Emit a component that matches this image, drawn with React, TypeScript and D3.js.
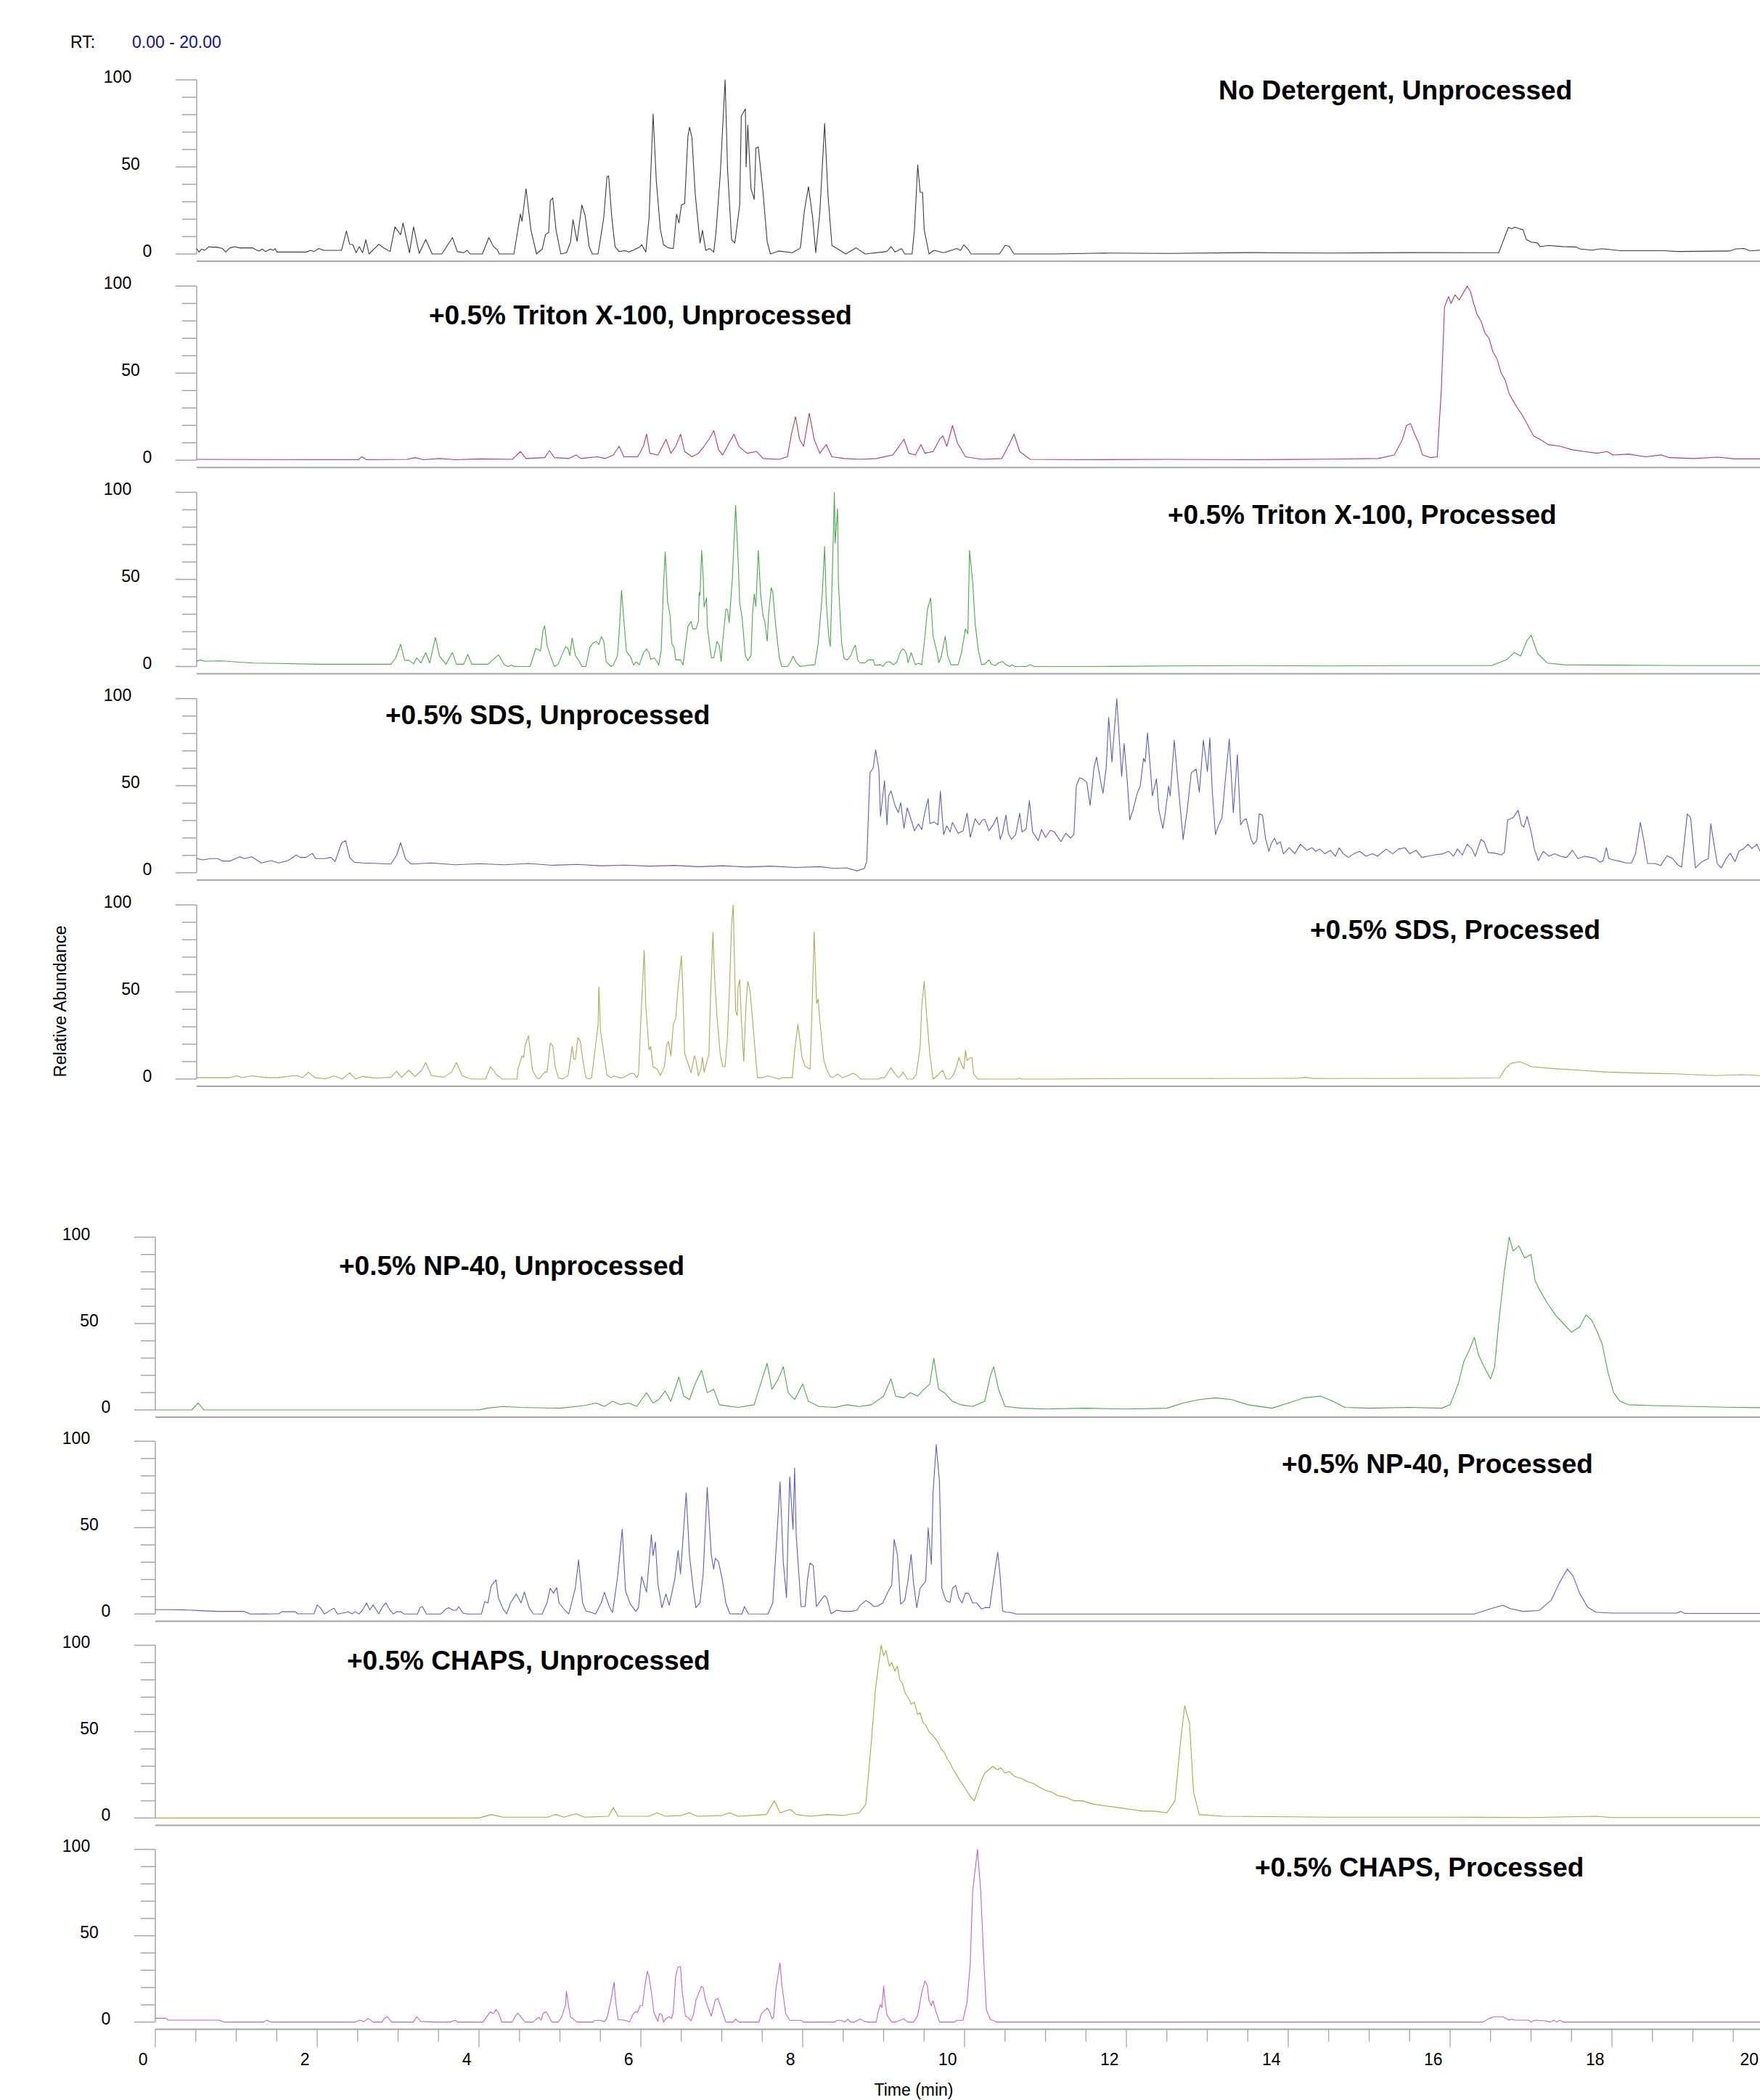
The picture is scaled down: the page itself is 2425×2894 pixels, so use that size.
import React from "react";
import * as d3 from "d3";

type Pt = [number, number];

const W = 2425;
const H = 2894;
const FONT = "'Liberation Sans', Arial, Helvetica, sans-serif";

// ---- trace data: [retention time (min), relative abundance (%)] ----
const noDetergentUnprocessed: Pt[] = [
  [0,3.1],[0.03,1.1],[0.06,2.8],[0.1,2.1],[0.15,4.2],[0.19,3.9],[0.25,3.9],[0.32,3.1],[0.36,1.1],[0.41,3.5],[0.47,4.2],[0.53,3.5],[0.69,3.5],[0.73,2.5],[0.77,1.7],[0.81,2.8],[0.85,1.4],[0.91,2.8],[0.95,2.1],[0.97,3.1],[0.99,1.1],[1.35,1.1],[1.41,2.1],[1.45,1.4],[1.51,3.1],[1.57,2.1],[1.79,2.1],[1.85,13.2],[1.89,5.6],[1.93,5.3],[1.97,0.7],[2.01,4.2],[2.05,0.7],[2.09,8.1],[2.13,0],[2.25,5.6],[2.31,3.5],[2.39,1.4],[2.45,15.6],[2.52,11.1],[2.55,17.8],[2.63,0.7],[2.68,15.6],[2.75,0.3],[2.83,8.3],[2.91,0],[3.03,0],[3.16,9.4],[3.22,1.4],[3.3,0.7],[3.34,2.1],[3.38,0],[3.53,0],[3.61,9.4],[3.67,4.2],[3.72,2.1],[3.74,0],[3.92,0],
  [4.0,22.9],[4.02,18.8],[4.07,37.5],[4.13,13.9],[4.2,0],[4.27,2.8],[4.31,11.1],[4.35,12.5],[4.37,30.6],[4.4,32.2],[4.44,13.9],[4.5,0],[4.57,0.7],[4.62,6.9],[4.65,19.7],[4.7,7.2],[4.76,28.1],[4.8,22.2],[4.85,4.2],[4.89,0],[4.96,0],[5.03,20.8],[5.07,44.2],[5.09,44.9],[5.13,20.8],[5.17,4.2],[5.22,1.4],[5.3,1.9],[5.34,1.1],[5.39,2.1],[5.47,3.9],[5.5,5.3],[5.55,1.1],[5.59,20.8],[5.64,80.3],[5.68,41.7],[5.73,13.9],[5.77,5.3],[5.83,3.5],[5.89,3.1],[5.93,22.9],[5.96,17.8],[5.99,28.1],[6.03,29],[6.07,67.4],[6.09,72.8],[6.12,66.9],[6.16,34.7],[6.22,6.3],[6.25,13.6],[6.29,2.1],[6.34,3.1],[6.39,1.1],[6.42,13.9],[6.47,45.8],[6.53,100],[6.56,48.6],[6.61,8.3],[6.65,6.3],[6.71,28.1],[6.73,79.2],[6.78,83.3],[6.79,50],[6.81,73.9],[6.85,37.5],[6.89,31.3],[6.91,60.7],[6.94,61.5],[7.0,34.7],[7.05,6.9],[7.09,0],[7.19,1.7],[7.36,0.7],[7.46,3.5],[7.51,25],[7.56,38.6],[7.61,21.5],[7.65,0.7],[7.7,23.6],[7.76,75],[7.8,34.7],[7.85,4.9],[7.95,2.1],[8.02,0],[8.15,3.5],[8.26,0],[8.53,1.4],[8.58,4.2],[8.63,1.1],[8.71,3.1],[8.75,0],[8.84,0],[8.87,13.9],[8.91,51.1],[8.94,35.4],[8.97,35.4],[8.99,13.9],[9.05,0],[9.11,2.1],[9.23,0.7],[9.39,3.1],[9.44,2.1],[9.48,5.3],[9.53,2.8],[9.57,0],[9.92,0],[9.99,4.9],[10.04,4.5],[10.1,0],
  [10.6,0],[11.2,0.5],[12.0,0.3],[13.0,0.8],[14.0,0.5],[15.0,0.8],[16.0,0.7],[16.09,0.8],[16.21,15.3],[16.25,14.5],[16.29,15.4],[16.34,14.6],[16.39,13.9],[16.43,8.3],[16.49,6.9],[16.57,6.3],[16.6,4.2],[16.7,4.9],[16.88,4.2],[17.05,4.0],[17.09,2.9],[17.24,2.2],[17.36,3.0],[17.6,1.9],[18.13,1.9],[18.31,1.4],[18.94,1.7],[19.02,2.9],[19.12,3.1],[19.2,1.8],[19.32,2.2],
];

const tritonUnprocessed: Pt[] = [
  [0,0.5],[1.5,0.3],[2.0,0.3],[2.04,2.0],[2.1,0.3],[2.6,0.5],[2.7,1.5],[2.8,0.3],[3.0,1.0],[3.2,0.3],[3.5,0.8],[3.9,0.5],[4.0,5],[4.07,1],[4.3,1.5],[4.36,5.5],[4.42,1.5],[4.6,1],[4.69,3],[4.75,1],[4.95,2],[5.05,1],[5.15,3],[5.22,8],[5.28,2],[5.45,2],[5.52,8],[5.56,15],[5.6,4],[5.7,3],[5.8,12],[5.86,4],[5.92,8],[5.98,15],[6.03,5],[6.12,2],[6.2,4],[6.27,8],[6.33,12],[6.39,17],[6.45,6],[6.5,3],[6.58,10],[6.64,15],[6.7,8],[6.8,4],[6.92,5],[7.0,1],[7.2,0.5],[7.3,2],[7.35,15],[7.4,25],[7.45,12],[7.5,8],[7.57,27],[7.63,12],[7.7,4],[7.78,9],[7.85,2],[8.0,1],[8.2,0.5],[8.4,1],[8.6,3],[8.68,8],[8.74,12],[8.8,4],[8.88,3],[8.95,9],[9.0,4],[9.1,5],[9.18,12],[9.22,14],[9.27,8],[9.34,20],[9.4,10],[9.5,2],[9.7,0.5],[9.95,1],[10.05,10],[10.1,15],[10.17,5],[10.3,0.5],[11,0.3],[12,0.5],[13,0.3],[14,0.6],[14.6,1],[14.8,3],[14.9,12],[14.95,20],[15.0,21],[15.05,15],[15.1,10],[15.15,3],[15.25,1.5],[15.33,2],[15.38,40],[15.42,88],[15.47,94],[15.5,90],[15.55,95],[15.6,92],[15.65,96],[15.7,100],[15.74,97],[15.78,90],[15.82,84],[15.87,80],[15.92,73],[15.97,70],[16.02,62],[16.07,58],[16.12,50],[16.17,46],[16.22,38],[16.27,34],[16.32,30],[16.38,26],[16.45,20],[16.52,14],[16.6,12],[16.7,9],[16.85,8],[17.0,6],[17.15,5],[17.3,4],[17.43,5],[17.5,3],[17.7,3.5],[17.9,2],[18.1,3],[18.2,1.5],[18.5,1],[18.8,1.8],[19.0,0.8],[19.32,0.8],
];

const tritonProcessed: Pt[] = [
  [0,3],[0.05,3.8],[0.1,3.0],[0.3,3.2],[0.5,2.6],[0.7,2.0],[1.0,1.8],[1.5,1.3],[2.0,1.3],[2.4,1.3],[2.46,5],[2.52,12.8],[2.57,3.6],[2.62,3.6],[2.68,1.5],[2.72,5],[2.77,2],[2.83,8],[2.88,2],[2.95,16.7],[3.0,6],[3.08,1.3],[3.16,8],[3.21,1.3],[3.3,1.3],[3.35,7],[3.4,1.3],[3.6,1.3],[3.73,6.7],[3.8,1],[3.85,0],[3.89,0.8],[3.92,0],[4.12,0],
  [4.19,10.3],[4.25,9.1],[4.28,20.9],[4.3,23.3],[4.33,12],[4.37,6.3],[4.42,0],[4.47,1.5],[4.51,6.3],[4.56,11.5],[4.59,10.3],[4.61,6.3],[4.64,16.3],[4.68,6.3],[4.73,2.8],[4.76,0],[4.81,0],[4.86,11.2],[4.9,13.5],[4.94,14.4],[4.97,12.6],[5.0,17.1],[5.03,14.6],[5.06,2.8],[5.12,0],[5.15,1],[5.2,6.3],[5.22,18.8],[5.25,43.8],[5.28,25.8],[5.31,8.8],[5.36,5.6],[5.4,0.8],[5.43,2.8],[5.47,1],[5.52,7.7],[5.56,10.2],[5.59,7.7],[5.61,4.2],[5.65,4.9],[5.68,3.3],[5.71,0.8],[5.74,9.1],[5.77,48],[5.79,65.8],[5.82,36.9],[5.85,29.2],[5.87,13.3],[5.9,10.8],[5.92,3.8],[5.98,3.8],[6.01,0.8],[6.07,23],[6.11,25.8],[6.13,21.6],[6.17,21.6],[6.2,25.8],[6.21,42.7],[6.22,40.8],[6.24,66.7],[6.26,50.8],[6.27,34.1],[6.3,39.4],[6.31,23],[6.36,5],[6.39,5],[6.43,14.4],[6.46,12],[6.48,2.8],[6.5,14.6],[6.54,33],[6.56,32.7],[6.58,25.1],[6.62,50.8],[6.66,92.7],[6.69,61.9],[6.71,36.9],[6.74,27.9],[6.78,6.3],[6.81,3.3],[6.85,6.3],[6.87,31.3],[6.89,41.5],[6.91,34.4],[6.94,66.7],[6.97,40.9],[7.0,28.8],[7.02,25.8],[7.05,14.6],[7.07,31.3],[7.1,45.2],[7.12,42.4],[7.15,25.8],[7.2,5],[7.23,0],[7.3,0],[7.34,2.8],[7.37,5.9],[7.41,2.2],[7.46,0],[7.58,0.8],[7.64,1],[7.68,13.3],[7.73,41],[7.76,68.8],[7.78,36.9],[7.81,17.4],[7.83,11.5],[7.86,61.9],[7.88,100],[7.89,70.8],[7.92,90.6],[7.93,48],[7.97,13.3],[8.0,4.6],[8.04,3.8],[8.08,6],[8.12,10.8],[8.14,12.2],[8.17,3.5],[8.2,2.1],[8.26,2.1],[8.3,3.8],[8.36,3.8],[8.38,0.8],[8.45,1],[8.48,0],[8.52,2.4],[8.56,2.8],[8.61,1],[8.65,2.4],[8.7,8.8],[8.73,10.2],[8.77,7.7],[8.79,2.2],[8.83,8],[8.88,1],[8.92,1.9],[8.96,1],[9.0,17.4],[9.03,32.7],[9.07,39.4],[9.1,17.4],[9.15,8],[9.17,2.2],[9.2,5.6],[9.25,17.4],[9.28,6.3],[9.32,1],[9.41,1],[9.45,7.7],[9.5,21.6],[9.53,18.8],[9.55,66.7],[9.59,48],[9.62,24.4],[9.66,9.1],[9.7,1],[9.74,1.4],[9.79,3.8],[9.82,1.4],[9.87,0.5],[9.91,2.2],[9.96,2.8],[10.0,1],[10.05,0],[10.07,1],[10.11,0],[10.25,0],[10.3,1],[10.35,0],
  [11.0,0],[12,0.3],[13,0.5],[14,0.3],[15,0.5],[16.0,0.5],[16.19,4],[16.28,8],[16.36,6],[16.44,15],[16.49,18],[16.57,7.5],[16.69,2],[16.9,1],[17.5,0.8],[18.5,0.5],[19.32,0.5],
];

const sdsUnprocessed: Pt[] = [
  [0,8.1],[0.08,7.4],[0.17,8.1],[0.26,8.1],[0.32,6.7],[0.41,6.7],[0.53,9.2],[0.59,8.1],[0.68,9.2],[0.74,7.4],[0.8,5.6],[0.92,7.0],[1.01,5.6],[1.13,7.0],[1.23,10.2],[1.28,8.8],[1.35,8.8],[1.43,11.2],[1.47,8.1],[1.58,8.1],[1.66,8.8],[1.71,6.4],[1.79,17.1],[1.84,18.5],[1.89,8.8],[1.95,6.0],[2.05,5.6],[2.2,5.4],[2.4,5.0],[2.47,10],[2.52,17.3],[2.58,8],[2.65,5],[2.9,5.6],[3.2,4.6],[3.5,5.2],[3.8,4.6],[4.1,5.3],[4.4,4.3],[4.7,4.8],[5.0,4.0],[5.3,4.4],[5.6,3.8],[5.9,4.2],[6.2,3.5],[6.5,4.0],[6.8,3.3],[7.1,3.8],[7.4,3.0],[7.7,3.5],
  [7.88,2.5],[8.03,2.8],[8.16,1.1],[8.25,2.5],[8.28,6.4],[8.32,57.4],[8.36,60.2],[8.39,70.6],[8.43,59.5],[8.45,32.4],[8.5,52.8],[8.53,27.5],[8.55,44.2],[8.58,47],[8.63,38.6],[8.67,34.5],[8.7,40.3],[8.74,25.5],[8.78,37.3],[8.83,30.3],[8.87,24.1],[8.92,28],[8.96,24.8],[9.0,35.2],[9.04,42.5],[9.06,28.2],[9.11,29.2],[9.16,27.5],[9.19,46.7],[9.23,22],[9.27,26.9],[9.31,23.4],[9.34,28.9],[9.41,22.7],[9.47,24.1],[9.52,34.2],[9.56,20.3],[9.62,31],[9.67,27.5],[9.71,30.3],[9.74,30.6],[9.79,24.1],[9.85,28.2],[9.89,32.1],[9.93,19.2],[9.96,23.4],[10.0,33.1],[10.03,22.7],[10.07,19.2],[10.12,21.9],[10.17,34.2],[10.2,23.4],[10.25,25.1],[10.29,41.4],[10.33,23.4],[10.4,18.5],[10.44,24.8],[10.49,20.3],[10.55,24.4],[10.6,23.4],[10.68,17.8],[10.74,22.7],[10.8,19.9],[10.84,21.9],[10.87,50],[10.91,54.6],[10.95,53.9],[11.0,51.8],[11.04,38.6],[11.09,60.9],[11.12,66.4],[11.17,52.5],[11.2,45.6],[11.24,60.9],[11.27,89.3],[11.31,63.6],[11.37,100],[11.4,77.5],[11.43,55.3],[11.46,74.1],[11.5,52.5],[11.53,30.3],[11.57,35.9],[11.62,45.3],[11.66,49.8],[11.7,65.7],[11.72,63.6],[11.75,80.3],[11.79,56.7],[11.81,44.2],[11.86,53.9],[11.89,35.9],[11.94,25.5],[11.97,34.5],[12.01,49.8],[12.03,44.2],[12.08,76.2],[12.13,49.8],[12.19,19.2],[12.24,35.9],[12.29,57.4],[12.35,59.5],[12.39,46.3],[12.44,76.2],[12.49,58.1],[12.52,77.5],[12.55,46.9],[12.59,21.9],[12.62,26.2],[12.67,31.7],[12.71,52.5],[12.76,76.9],[12.81,34.5],[12.86,67.8],[12.9,27.5],[12.94,30.3],[12.97,31],[13.03,19.2],[13.06,16.4],[13.1,18.5],[13.13,33.8],[13.17,33.1],[13.21,19.2],[13.25,12.3],[13.28,16.9],[13.32,19.9],[13.35,16.4],[13.39,17.8],[13.43,10.9],[13.5,14.4],[13.57,10.9],[13.64,16.4],[13.72,12.9],[13.78,14.4],[13.83,12.3],[13.88,13.6],[13.94,10.9],[14.01,12.9],[14.07,9.5],[14.12,14.3],[14.17,10.9],[14.23,8.8],[14.3,10.9],[14.37,12.3],[14.45,9.5],[14.53,10.9],[14.59,9.5],[14.7,13.6],[14.78,10.9],[14.85,13.6],[14.93,14.4],[14.99,10.9],[15.07,12.9],[15.14,8.8],[15.21,9.5],[15.29,10.2],[15.4,10.9],[15.47,12.3],[15.53,9.5],[15.58,13.6],[15.64,10.2],[15.7,16.4],[15.76,13.6],[15.8,9.5],[15.87,19.2],[15.91,17.8],[15.96,11.6],[16.05,11.2],[16.12,10.2],[16.16,11.6],[16.2,30.3],[16.27,31.7],[16.33,35.9],[16.37,27.5],[16.4,26.2],[16.44,32.4],[16.49,23.4],[16.53,13.6],[16.58,7],[16.64,12.3],[16.71,9.5],[16.78,10.9],[16.85,9.5],[16.93,8.8],[17.0,12.9],[17.07,8.1],[17.15,9.5],[17.23,8.8],[17.29,8.1],[17.34,6],[17.38,7],[17.42,14.4],[17.45,8.1],[17.51,7.4],[17.6,6.4],[17.66,5.6],[17.73,5.6],[17.78,10.9],[17.84,28.9],[17.88,19.2],[17.93,5.3],[18.02,5.3],[18.09,4.2],[18.17,9.8],[18.24,8.1],[18.3,4.6],[18.35,3.2],[18.42,33.8],[18.46,31.7],[18.52,2.8],[18.6,6.4],[18.68,8.1],[18.71,28.2],[18.75,16.4],[18.79,5.3],[18.84,2.8],[18.9,8.1],[18.95,11.2],[19.01,6.4],[19.06,12.5],[19.11,13.6],[19.17,16.4],[19.22,13.9],[19.28,16.4],[19.32,12.3],
];

const sdsProcessed: Pt[] = [
  [0,0.8],[0.41,0.8],[0.5,1.9],[0.56,0.8],[0.68,1.9],[0.86,0.8],[1.01,0.8],[1.19,1.9],[1.25,1.9],[1.31,0.8],[1.38,3.9],[1.46,0.8],[1.59,0.1],[1.7,1.8],[1.8,0],[1.89,3.6],[1.96,0],[2.05,1.5],[2.2,0.5],[2.4,1],[2.47,4.4],[2.53,1],[2.62,5],[2.7,1.5],[2.78,5],[2.83,9.5],[2.9,2],[3.05,1],[3.15,4],[3.21,9.5],[3.28,2],[3.35,0.5],
  [3.4,0],[3.57,0],[3.63,7.1],[3.67,5],[3.71,2.2],[3.74,1.5],[3.77,0],[3.96,0],[3.97,5.7],[4.02,13.3],[4.04,12.4],[4.06,19.6],[4.1,24.9],[4.12,16.8],[4.15,5],[4.2,0.8],[4.23,0],[4.27,2.2],[4.3,4],[4.33,4],[4.37,20.7],[4.4,18.9],[4.43,7.1],[4.47,0.8],[4.52,0],[4.57,1.5],[4.59,2.2],[4.64,18.6],[4.66,11.5],[4.68,11.3],[4.71,23.8],[4.74,21.7],[4.77,11.3],[4.81,0.8],[4.85,0],[4.88,0.8],[4.93,19.6],[4.96,30.7],[4.97,52.9],[4.99,27.9],[5.02,18.2],[5.07,2.2],[5.12,0.8],[5.16,1.8],[5.21,0.8],[5.27,0.8],[5.31,1.8],[5.36,3.2],[5.4,3.2],[5.44,0.8],[5.46,2.9],[5.49,34.9],[5.53,73.8],[5.55,41.8],[5.59,16.8],[5.61,18.6],[5.64,7.1],[5.69,5.7],[5.73,2.1],[5.78,7.1],[5.81,19.9],[5.83,21.7],[5.86,13.3],[5.89,31.4],[5.92,34.9],[5.95,52.9],[5.99,70.7],[6.01,48.8],[6.03,14.6],[6.08,7.9],[6.11,3.6],[6.15,13.3],[6.17,10.6],[6.2,1.8],[6.23,5.7],[6.25,12.6],[6.27,4],[6.33,14],[6.35,47.4],[6.38,84.4],[6.4,58.5],[6.43,35.5],[6.47,14],[6.5,7.4],[6.53,7.1],[6.56,25.1],[6.58,47.4],[6.61,89],[6.63,99.9],[6.66,39],[6.68,36.5],[6.69,52.9],[6.71,57.1],[6.73,34.9],[6.76,10.1],[6.79,44.6],[6.81,56.1],[6.84,50.1],[6.87,33.5],[6.9,16.8],[6.93,0.8],[6.99,0.8],[7.06,1.8],[7.13,0.8],[7.2,0],[7.24,0.8],[7.36,0.8],[7.39,16.8],[7.43,31.4],[7.45,23.8],[7.48,12.6],[7.52,7.1],[7.58,5.7],[7.6,33.5],[7.63,84.6],[7.66,43.2],[7.68,45.9],[7.7,33.5],[7.75,10.6],[7.79,5],[7.83,1.5],[7.86,0.8],[7.92,2.9],[7.98,0.8],[8.04,1.8],[8.11,3.2],[8.16,2.2],[8.2,0],[8.43,0],[8.46,0.8],[8.5,0.8],[8.53,2.9],[8.58,6.4],[8.62,3.6],[8.67,0.8],[8.7,1.8],[8.73,4],[8.78,0.1],[8.85,0],[8.89,2.2],[8.94,18.2],[8.96,41.8],[8.99,56.1],[9.02,36.5],[9.06,14],[9.1,0],[9.16,2.2],[9.19,4],[9.22,4.9],[9.26,0.1],[9.31,0],[9.35,2.2],[9.39,7.1],[9.42,12.4],[9.45,8.5],[9.48,5.7],[9.5,16.5],[9.52,10.6],[9.55,12],[9.58,12.4],[9.6,3.2],[9.65,0],[10.15,0],[10.17,0.7],[10.19,0],[10.57,0],
  [11.5,0.3],[12.5,0.3],[13.6,0.4],[13.7,1],[13.8,0.3],[15.5,0.4],[16.1,0.6],[16.17,6],[16.24,9],[16.35,10],[16.45,8],[16.5,7],[16.77,6],[17.1,5],[17.43,4],[17.76,3.5],[18.26,3],[18.76,2],[19.09,2.5],[19.32,2],
];

const np40Unprocessed: Pt[] = [
  [0,0],[0.45,0],[0.53,4],[0.6,0],[4.0,0],[4.1,1],[4.3,2],[4.5,1.5],[5.0,1],[5.3,2.5],[5.45,4],[5.55,2],[5.65,5],[5.75,3],[5.85,4],[5.95,2],[6.07,10],[6.15,4],[6.22,6],[6.3,11],[6.37,5],[6.47,19],[6.53,8],[6.6,6],[6.67,15],[6.75,23],[6.82,10],[6.9,12],[6.97,3],[7.2,1.5],[7.4,3],[7.5,18],[7.56,27],[7.62,12],[7.7,18],[7.76,25],[7.82,10],[7.9,6],[8.0,15],[8.07,5],[8.2,2],[8.4,1.5],[8.55,3],[8.7,2],[8.85,3],[9.0,8],[9.09,18],[9.15,8],[9.25,7],[9.33,10],[9.42,8],[9.5,12],[9.57,15],[9.62,30],[9.68,12],[9.75,10],[9.85,5],[9.95,3],[10.1,2],[10.25,5],[10.32,20],[10.36,25],[10.42,12],[10.5,2],[10.7,1],[11,0.5],[11.5,1],[12,0.5],[12.5,1],[12.7,4],[12.9,6],[13.1,7],[13.3,6],[13.5,3],[13.8,1],[14.0,4],[14.2,7],[14.4,8],[14.55,5],[14.7,1.5],[15.0,1],[15.5,1.5],[15.9,1],[16.0,3],[16.1,15],[16.17,28],[16.24,35],[16.3,42],[16.35,32],[16.42,25],[16.5,18],[16.55,25],[16.6,50],[16.67,80],[16.73,100],[16.78,92],[16.85,95],[16.92,88],[17.0,90],[17.05,75],[17.1,70],[17.2,62],[17.3,55],[17.4,50],[17.5,45],[17.6,48],[17.68,55],[17.75,52],[17.82,45],[17.88,38],[17.95,22],[18.02,10],[18.1,5],[18.2,3],[18.5,2.5],[19,2],[19.5,1.5],[20,1.2],
];

const np40Processed: Pt[] = [
  [0,2.5],[0.2,2.5],[0.4,2.3],[0.6,1.8],[0.77,1.5],[1.1,1.5],[1.17,0],[1.36,0.1],[1.41,0],[1.46,0.1],[1.53,0.1],[1.56,1.3],[1.73,1.3],[1.76,0.1],[1.96,0.1],[2.0,5.2],[2.04,3.6],[2.09,0],[2.14,1.5],[2.21,3.3],[2.25,0],[2.35,0.8],[2.38,1.3],[2.43,0.1],[2.47,1.3],[2.52,0],[2.56,2.2],[2.61,6.4],[2.65,2.4],[2.69,5.2],[2.73,2.4],[2.76,0],[2.81,4.3],[2.85,6.4],[2.9,2.2],[2.94,0],[2.98,1.3],[3.04,1.3],[3.07,0],[3.24,0],[3.27,3.6],[3.3,4.3],[3.35,0],[3.53,0],[3.59,2.9],[3.63,3.6],[3.68,2.2],[3.72,2.2],[3.75,4.3],[3.8,0.5],[3.86,0],[4.03,0],[4.07,7.1],[4.11,6.4],[4.15,16.2],[4.21,19.7],[4.24,9.2],[4.29,3.6],[4.34,0],[4.39,6.4],[4.46,11.6],[4.52,6.4],[4.56,12.7],[4.62,3.6],[4.67,0.1],[4.78,0],[4.84,6.4],[4.88,14.9],[4.92,12],[4.96,15.3],[4.99,6.4],[5.06,2.2],[5.11,0],[5.19,14.9],[5.23,31.3],[5.28,6.4],[5.32,1.8],[5.38,1],[5.44,0],[5.51,6.4],[5.55,12.5],[5.61,4.3],[5.65,0.8],[5.71,20.4],[5.77,49.1],[5.81,13.4],[5.87,5.7],[5.94,1.5],[5.97,3.6],[6.01,21.7],[6.07,12.7],[6.13,45.9],[6.15,33.7],[6.18,41.7],[6.21,17.6],[6.26,3.6],[6.31,11.6],[6.35,5],[6.42,20.4],[6.46,36.7],[6.49,23.2],[6.53,49.8],[6.56,70.1],[6.6,34.4],[6.65,13.4],[6.68,3.6],[6.73,6.4],[6.77,23.2],[6.82,73.3],[6.87,34.4],[6.9,26],[6.92,32.3],[6.96,30.2],[7.01,19],[7.05,6.4],[7.1,0.1],[7.25,0],[7.28,4.3],[7.33,0.1],[7.57,0],[7.63,6.4],[7.68,44.2],[7.72,76.4],[7.76,30.2],[7.8,9.5],[7.82,48.4],[7.84,79.5],[7.88,49.1],[7.9,84.5],[7.92,45.6],[7.98,4.3],[8.03,4.3],[8.06,20.4],[8.09,29.5],[8.13,28.1],[8.17,4.3],[8.22,7.8],[8.27,10.6],[8.3,9.2],[8.35,0.1],[8.42,2.2],[8.5,1.5],[8.6,1.5],[8.67,2.2],[8.71,5],[8.78,7.8],[8.83,6.4],[8.88,4.3],[8.93,4.6],[8.99,6.4],[9.06,13.4],[9.1,16.7],[9.13,43.1],[9.17,34.4],[9.21,5.7],[9.26,7.8],[9.3,19],[9.34,34.4],[9.37,17.6],[9.41,3.6],[9.45,14.8],[9.52,19],[9.55,49.8],[9.59,28.8],[9.61,69.4],[9.65,98.1],[9.69,76.4],[9.72,14.8],[9.77,7.8],[9.82,6.7],[9.85,14.8],[9.89,16.5],[9.93,9.2],[9.97,6.4],[10.01,12],[10.05,12],[10.1,6.4],[10.15,6.4],[10.21,2.9],[10.26,3.8],[10.31,3.6],[10.36,20.4],[10.41,35.8],[10.44,21.8],[10.47,1.8],[10.51,1],[10.57,0.8],[10.64,0],
  [12,0],[14,0],[16.3,0],[16.5,3],[16.65,5],[16.75,3],[16.9,1.5],[17.1,2],[17.25,8],[17.35,18],[17.45,26],[17.52,22],[17.6,12],[17.7,4],[17.8,1],[18.0,0.5],[18.8,0.5],[18.85,1.5],[18.9,0.3],[20,0.3],
];

const chapsUnprocessed: Pt[] = [
  [0,0],[4.0,0],[4.15,2],[4.3,0.5],[4.85,0.5],[4.95,2],[5.05,0.5],[5.2,2.5],[5.3,0.5],[5.6,1],[5.66,6],[5.72,1],[6.1,1],[6.2,3],[6.3,1],[6.5,1.5],[6.6,3],[6.7,1],[7.0,1.5],[7.1,3],[7.2,1],[7.55,2],[7.65,10],[7.72,3],[7.85,5],[7.92,2],[8.1,1],[8.3,2],[8.5,1.5],[8.7,3],[8.78,8],[8.85,45],[8.9,75],[8.97,100],[9.0,94],[9.03,97],[9.07,88],[9.1,90],[9.14,85],[9.17,88],[9.2,80],[9.23,78],[9.27,72],[9.3,70],[9.34,66],[9.38,67],[9.42,60],[9.45,61],[9.49,55],[9.52,54],[9.56,50],[9.6,48],[9.64,46],[9.67,44],[9.71,40],[9.75,38],[9.79,34],[9.82,32],[9.86,28],[9.9,25],[9.94,22],[9.97,20],[10.01,17],[10.05,14],[10.08,12],[10.12,10],[10.15,14],[10.18,18],[10.22,23],[10.25,26],[10.3,28],[10.35,30],[10.4,28],[10.45,29],[10.5,26],[10.55,27],[10.62,24],[10.7,23],[10.78,21],[10.85,20],[10.92,18],[11.0,16],[11.08,15],[11.15,13],[11.25,12],[11.35,10],[11.45,10],[11.6,8],[11.75,7],[11.9,6],[12.05,5],[12.2,4],[12.35,4],[12.5,3],[12.6,10],[12.66,40],[12.72,65],[12.78,55],[12.83,15],[12.9,2],[13.2,1],[13.8,0.8],[14.5,0.5],[16,0.5],[17,0.3],[17.8,1],[18,0.3],[20,0.3],
];

const chapsProcessed: Pt[] = [
  [0,2.2],[0.13,2.2],[0.16,1.1],[0.79,1.1],[0.85,0],[1.34,0],[1.38,1.1],[1.43,0],[2.47,0],[2.53,1.1],[2.58,0.3],[2.63,2.1],[2.69,0],[2.8,0],[2.83,2.1],[2.87,3.1],[2.92,0],[3.19,0],[3.23,3.1],[3.28,0.3],[3.46,0],[3.65,0],[3.68,0.7],[3.71,1],[3.73,0],
  [4.05,0],[4.09,2.8],[4.14,5.9],[4.18,4.9],[4.21,7.3],[4.24,5.6],[4.28,0],[4.41,0],[4.45,3.6],[4.48,5.2],[4.52,2.8],[4.57,0],[4.67,0],[4.7,1.4],[4.74,2.8],[4.77,1],[4.79,4.9],[4.83,6],[4.87,2.8],[4.9,0],[4.98,0],[5.02,2.8],[5.07,10.1],[5.08,17.8],[5.11,8.4],[5.13,3.1],[5.21,0],[5.41,0],[5.43,1],[5.5,1],[5.55,0.3],[5.58,2.1],[5.63,12.6],[5.67,23.1],[5.69,11.2],[5.72,1.4],[5.8,1.1],[5.86,0],[5.9,4.2],[5.93,6],[5.96,5.6],[5.99,9.5],[6.02,9.5],[6.05,21],[6.08,29.4],[6.1,26.6],[6.14,14],[6.16,5.6],[6.2,1.4],[6.21,0.3],[6.23,4.9],[6.26,4.2],[6.28,0],[6.31,2.1],[6.35,3.1],[6.38,2.1],[6.4,5.6],[6.43,26.6],[6.46,31.9],[6.49,32.2],[6.51,18.2],[6.55,3.5],[6.58,2.8],[6.62,0.7],[6.65,4.2],[6.68,12.6],[6.71,16.1],[6.75,20.7],[6.77,19.9],[6.8,12.6],[6.83,8.4],[6.87,3.5],[6.89,7],[6.92,12.9],[6.95,13.7],[6.97,11.2],[7.01,5.6],[7.05,0],[7.14,0],[7.17,1.8],[7.21,0],[7.46,0],[7.49,4.9],[7.52,6.2],[7.56,8.1],[7.59,6.3],[7.62,2.1],[7.64,2.8],[7.67,19.6],[7.72,34.3],[7.74,22.4],[7.79,4.9],[7.84,1],[7.98,1],[8.01,0],[8.4,0],[8.42,1],[8.47,1],[8.52,0],[8.56,1.7],[8.59,0],[8.64,0],[8.71,1.8],[8.76,0.4],[8.81,0],[8.91,0],[8.93,5.6],[8.96,10.1],[8.98,8.4],[9.0,20.7],[9.02,11.2],[9.04,4.2],[9.1,0],[9.15,0],[9.2,1],[9.25,1.8],[9.3,0],[9.37,0],[9.42,3.6],[9.47,16.8],[9.51,23.8],[9.54,21],[9.56,12.6],[9.59,9.5],[9.61,12.3],[9.64,7],[9.69,0],[9.88,0],[9.9,1],[9.98,1],[10.03,11.2],[10.07,33.6],[10.1,75.6],[10.16,100],[10.2,75.6],[10.24,33.6],[10.27,7],[10.32,1.4],[10.37,0.7],[10.39,0],
  [16.41,0],[16.48,2.1],[16.55,3.1],[16.65,3.1],[16.69,2.1],[16.73,1.1],[16.76,1.7],[16.8,1.1],[16.97,1.1],[17.0,0],[17.05,1.1],[17.18,0.7],[17.24,0],[17.28,1.1],[17.32,0],[17.35,1.1],[17.4,0],[20,0],
];

const TRACES: Pt[][] = [
  noDetergentUnprocessed, tritonUnprocessed, tritonProcessed, sdsUnprocessed, sdsProcessed,
  np40Unprocessed, np40Processed, chapsUnprocessed, chapsProcessed,
];

const TITLES = [
  "No Detergent, Unprocessed",
  "+0.5% Triton X-100, Unprocessed",
  "+0.5% Triton X-100, Processed",
  "+0.5% SDS, Unprocessed",
  "+0.5% SDS, Processed",
  "+0.5% NP-40, Unprocessed",
  "+0.5% NP-40, Processed",
  "+0.5% CHAPS, Unprocessed",
  "+0.5% CHAPS, Processed",
];

const Y_TICKS = [0, 10, 20, 30, 40, 50, 60, 70, 80, 90, 100];
const Y_LABELS = [0, 50, 100];
const X_TICKS = d3.range(0, 20.001, 0.5);
const X_LABELS = [0, 2, 4, 6, 8, 10, 12, 14, 16, 18, 20];

// ---- styles / layout ----
const COLORS = ["#3c3c3c", "#b83c56", "#4aa84a", "#5c5cc8", "#abab52", "#4aa84a", "#5c5cc8", "#a9a93e", "#c262c6"];
const AXIS = "#a6a6a6";
const PX_PER_MIN = 111.5;
const GROUPS = [
  { x0: 271, zero0: 350, step: 284.25, height: 240 },
  { x0: 214, zero0: 1943, step: 281.2, height: 238 },
];
const TITLE_POS: [number, number][] = [
  [1679, 137], [591, 447], [1609, 722], [531, 998], [1805, 1294],
  [467, 1757], [1766, 2030], [478, 2301], [1729, 2586],
];
const LABEL_DX: Record<number, number> = { 0: -68, 50: -91, 100: -109 };

function panelGeom(i: number) {
  const g = GROUPS[i < 5 ? 0 : 1];
  const row = i < 5 ? i : i - 5;
  const x = d3.scaleLinear().domain([0, 20]).range([g.x0, g.x0 + 20 * PX_PER_MIN]);
  const zero = g.zero0 + row * g.step;
  const y = d3.scaleLinear().domain([0, 100]).range([zero, zero - g.height]);
  return { x, y, zero };
}

const Panel: React.FC<{ i: number }> = ({ i }) => {
  const { x, y, zero } = panelGeom(i);
  const ax = x(0);
  const line = d3
    .line<Pt>()
    .x((d) => x(d[0]))
    .y((d) => y(d[1]));
  return (
    <g>
      <line x1={ax} x2={W} y1={zero + 10} y2={zero + 10} stroke={AXIS} strokeWidth={2} />
      <line x1={ax} x2={ax} y1={y(100)} y2={y(0)} stroke={AXIS} strokeWidth={1.5} />
      {Y_TICKS.map((v) => (
        <line key={v} x1={ax - (v % 50 === 0 ? 29 : 20)} x2={ax} y1={y(v)} y2={y(v)} stroke={AXIS} strokeWidth={1.5} />
      ))}
      {Y_LABELS.map((v) => (
        <text key={v} x={ax + LABEL_DX[v]} y={y(v) + 3.5} textAnchor="middle" fontSize={23}>
          {v}
        </text>
      ))}
      <path d={line(TRACES[i]) || ""} fill="none" stroke={COLORS[i]} strokeWidth={1.1} strokeLinejoin="round" />
      <text x={TITLE_POS[i][0]} y={TITLE_POS[i][1]} fontSize={37} fontWeight="bold">
        {TITLES[i]}
      </text>
    </g>
  );
};

const TimeAxis: React.FC = () => {
  const { x, zero } = panelGeom(8);
  const base = zero + 10;
  return (
    <g>
      {X_TICKS.map((t) => (
        <line key={t} x1={x(t)} x2={x(t)} y1={base} y2={base + (t % 2 === 0 ? 25 : 17)} stroke={AXIS} strokeWidth={1.3} />
      ))}
      {X_LABELS.map((t) => (
        <text key={t} x={Math.min(x(t) - 10.5, W - 2)} y={base + 49} textAnchor="end" fontSize={23}>
          {t}
        </text>
      ))}
      <text x={1259} y={2888} textAnchor="middle" fontSize={23}>
        Time (min)
      </text>
    </g>
  );
};

export default function App() {
  return (
    <svg
      width={W}
      height={H}
      viewBox={`0 0 ${W} ${H}`}
      style={{ position: "absolute", left: 0, top: 0, background: "#fff", display: "block" }}
      fontFamily={FONT}
    >
      <rect width={W} height={H} fill="#fff" />
      <text x={97} y={66} fontSize={23}>RT:</text>
      <text x={182} y={66} fontSize={23} fill="#10109c">0.00 - 20.00</text>
      <text transform="translate(91,1380) rotate(-90)" textAnchor="middle" fontSize={23.5}>
        Relative Abundance
      </text>
      {TRACES.map((_, i) => (
        <Panel key={i} i={i} />
      ))}
      <TimeAxis />
    </svg>
  );
}
